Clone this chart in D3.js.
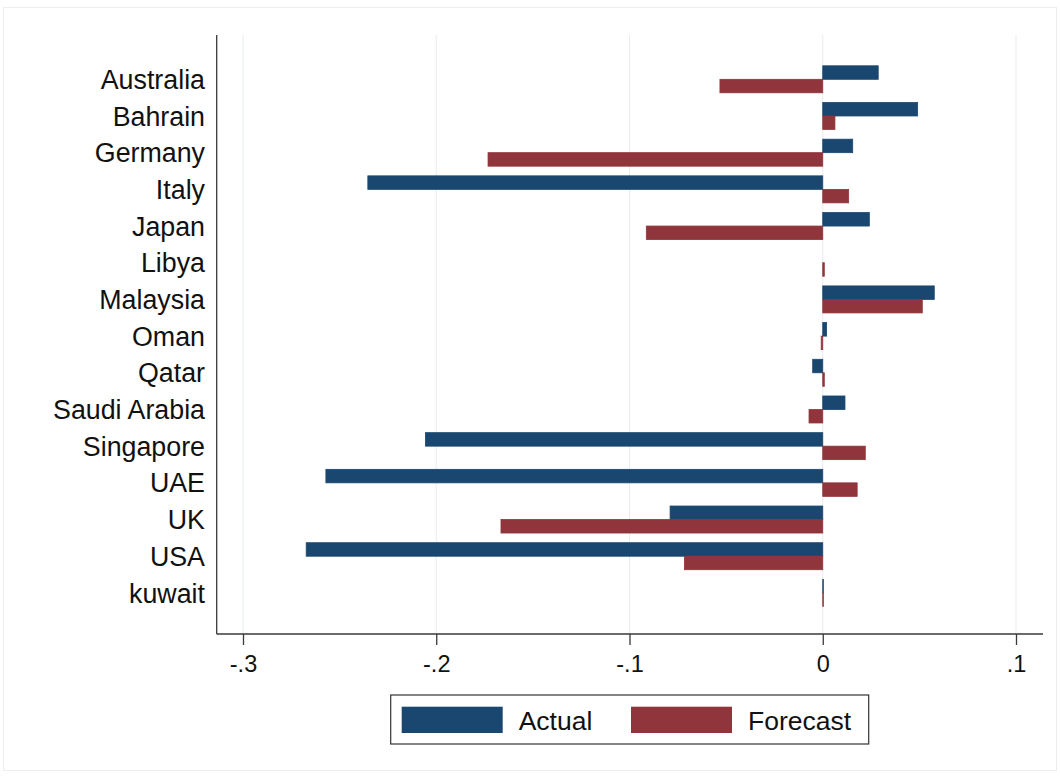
<!DOCTYPE html>
<html>
<head>
<meta charset="utf-8">
<script src="https://cdn.jsdelivr.net/npm/d3@7"></script>
<style>
  html, body { margin: 0; padding: 0; background: #ffffff; }
  svg { display: block; }
  text { font-family: "Liberation Sans", Arial, sans-serif; fill: #111; }
</style>
</head>
<body>
<svg id="chart" width="1060" height="776"></svg>
<script>
// Countries, in display order (top to bottom)
const categories = ["Australia", "Bahrain", "Germany", "Italy", "Japan", "Libya", "Malaysia",
  "Oman", "Qatar", "Saudi Arabia", "Singapore", "UAE", "UK", "USA", "kuwait"];

// Actual values per country (null = not available)
const actual = [0.0287, 0.0491, 0.0155, -0.2354, 0.0241, null, 0.0577,
  0.0020, -0.0052, 0.0115, -0.2056, -0.2571, -0.0790, -0.2673, 0.0003];

// Forecast values per country
const forecast = [-0.0532, 0.0063, -0.1732, 0.0134, -0.0913, 0.0008, 0.0515,
  -0.0008, 0.0008, -0.0071, 0.0220, 0.0178, -0.1665, -0.0716, 0.0003];

const xTicks = [-0.3, -0.2, -0.1, 0, 0.1];
const xTickLabels = ["-.3", "-.2", "-.1", "0", ".1"];

const seriesNames = ["Actual", "Forecast"];
const seriesColors = ["#1a476f", "#90353b"];

const svg = d3.select("#chart");

// faint outer frame of the graph region
svg.append("rect")
  .attr("x", 3.5).attr("y", 7.5).attr("width", 1053).attr("height", 763)
  .attr("fill", "none").attr("stroke", "#eeeeee");

const plot = { left: 216.7, right: 1043, top: 35, bottom: 634 };

const x = d3.scaleLinear().domain([-0.3, 0.1]).range([243, 1016]);
const y = d3.scalePoint().domain(categories).range([79.3, 592.9]);
const groupH = y.step() * 0.736;
const barH = groupH / 2;

// vertical grid lines
svg.append("g").selectAll("line").data(xTicks).join("line")
  .attr("x1", d => x(d)).attr("x2", d => x(d))
  .attr("y1", plot.top).attr("y2", plot.bottom)
  .attr("stroke", "#e7edef").attr("stroke-width", 1);

// bars
const rows = categories.map((c, i) => ({ c, a: actual[i], f: forecast[i] }));
const series = [
  rows.filter(r => r.a !== null).map(r => ({ c: r.c, v: r.a, k: 0 })),
  rows.filter(r => r.f !== null).map(r => ({ c: r.c, v: r.f, k: 1 }))
];
series.forEach((data, k) => {
  svg.append("g").selectAll("rect").data(data).join("rect")
    .attr("x", d => Math.min(x(0), x(d.v)))
    .attr("width", d => Math.max(Math.abs(x(d.v) - x(0)), 0.6))
    .attr("y", d => y(d.c) - groupH / 2 + k * barH)
    .attr("height", barH)
    .attr("fill", seriesColors[k])
    .attr("stroke", seriesColors[k])
    .attr("stroke-width", 0.8);
});

// category labels
svg.append("g").selectAll("text").data(categories).join("text")
  .attr("x", 205).attr("y", d => y(d))
  .attr("dy", "0.36em")
  .attr("text-anchor", "end")
  .attr("font-size", 26.8)
  .text(d => d);

// axes lines
svg.append("line")
  .attr("x1", plot.left).attr("x2", plot.left)
  .attr("y1", plot.top).attr("y2", plot.bottom)
  .attr("stroke", "#3a3a3a").attr("stroke-width", 1.3);

const xAxis = d3.axisBottom(x).tickValues(xTicks)
  .tickFormat((d, i) => xTickLabels[i]).tickSize(11).tickPadding(10).tickSizeOuter(0);
const gx = svg.append("g").attr("transform", `translate(0,${plot.bottom})`).call(xAxis);
gx.select(".domain").remove();
gx.selectAll(".tick line").attr("stroke", "#3a3a3a").attr("stroke-width", 1.3);
gx.selectAll(".tick text").attr("font-size", 23.5).attr("fill", "#111")
  .attr("font-family", "'Liberation Sans', Arial, sans-serif");
svg.append("line")
  .attr("x1", plot.left).attr("x2", plot.right)
  .attr("y1", plot.bottom).attr("y2", plot.bottom)
  .attr("stroke", "#3a3a3a").attr("stroke-width", 1.3);

// legend
const lg = svg.append("g");
lg.append("rect")
  .attr("x", 390.7).attr("y", 695).attr("width", 478).attr("height", 49)
  .attr("fill", "#fff").attr("stroke", "#333").attr("stroke-width", 1.2);
const legendX = [401.7, 631];
seriesNames.forEach((name, k) => {
  lg.append("rect")
    .attr("x", legendX[k]).attr("y", 706.7).attr("width", 101).attr("height", 26.3)
    .attr("fill", seriesColors[k]);
  lg.append("text")
    .attr("x", legendX[k] + 117).attr("y", 720)
    .attr("dy", "0.36em")
    .attr("font-size", 26.5)
    .text(name);
});
</script>
</body>
</html>
